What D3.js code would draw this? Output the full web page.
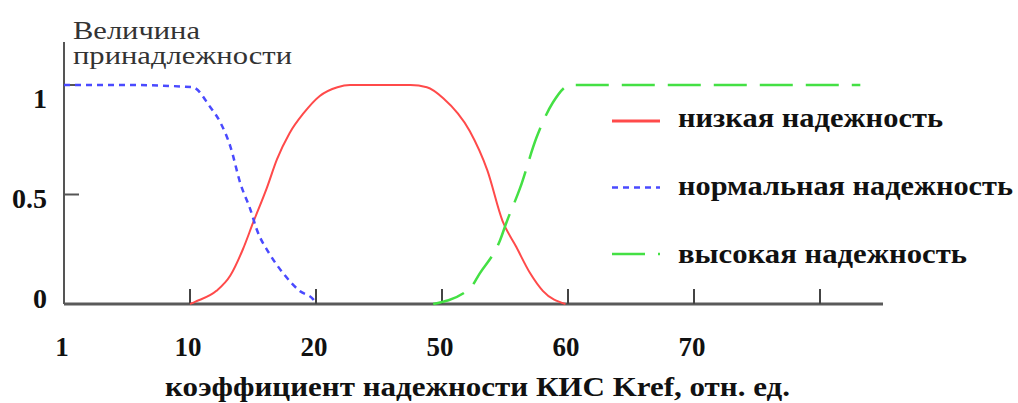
<!DOCTYPE html>
<html><head><meta charset="utf-8">
<script src="https://cdn.jsdelivr.net/npm/d3@7"></script>
<style>body{margin:0;background:#fff}svg{display:block}</style>
</head><body>
<svg id="c" width="1018" height="403"></svg>
<script>
// x positions are in tick-slot units: slot i sits under xTickLabels[i]
const xTickLabels = ["1", "10", "20", "50", "60", "70", ""];
const yTickValues = [1, 0.5];
const yTickLabels = ["1", "0.5", "0"];
const yLabelValues = [1, 0.5, 0];

const lowX = [1.00, 1.04, 1.21, 1.32, 1.42, 1.50, 1.61, 1.69, 1.79, 1.90, 2.03, 2.17, 2.27, 2.50, 2.75, 2.88, 3.01, 3.22, 3.36, 3.48, 3.59, 3.70, 3.80, 3.98];
const lowY = [0.00, 0.01, 0.06, 0.13, 0.25, 0.37, 0.53, 0.66, 0.78, 0.87, 0.95, 0.99, 1.00, 1.00, 1.00, 0.99, 0.94, 0.79, 0.61, 0.38, 0.26, 0.14, 0.06, 0.00];

const normX = [0.00, 0.50, 1.02, 1.16, 1.24, 1.32, 1.40, 1.48, 1.53, 1.63, 1.74, 1.87, 1.98, 2.00];
const normY = [1.00, 1.00, 0.99, 0.90, 0.83, 0.72, 0.55, 0.43, 0.34, 0.23, 0.14, 0.06, 0.02, 0.00];

const highX = [2.93, 3.22, 3.30, 3.46, 3.51, 3.62, 3.75, 3.88, 4.02, 5.00, 6.32];
const highY = [0.00, 0.07, 0.14, 0.29, 0.37, 0.53, 0.76, 0.92, 1.00, 1.00, 1.00];

const seriesNames = ["низкая надежность", "нормальная надежность", "высокая надежность"];
const seriesColors = ["#ff4a4a", "#4a4aff", "#44e044"];
const seriesDash = [null, "6,5", "33,13"];

const yTitle = ["Величина", "принадлежности"];
const xTitle = "коэффициент надежности КИС Kref, отн. ед.";

const svg = d3.select("#c");
const x = d3.scaleLinear().domain([0, 6.5]).range([64, 883]);
const y = d3.scaleLinear().domain([0, 1]).range([304, 85]);
const yLab = d3.scaleLinear().domain([0, 1]).range([298, 98]);

const serif = "'Liberation Serif','Times New Roman',serif";

// axes
svg.append("line").attr("x1", x(0)).attr("x2", x(0)).attr("y1", 42).attr("y2", y(0))
  .attr("stroke", "#555").attr("stroke-width", 2);
svg.append("line").attr("x1", x(0)).attr("x2", x(6.5)).attr("y1", y(0)).attr("y2", y(0))
  .attr("stroke", "#5a5a5a").attr("stroke-width", 3);

// x ticks (inner, upward)
xTickLabels.forEach((t, i) => {
  if (i > 0) svg.append("line").attr("x1", x(i)).attr("x2", x(i)).attr("y1", y(0)).attr("y2", y(0) - 15)
    .attr("stroke", "#444").attr("stroke-width", 2);
  if (t) svg.append("text").attr("x", x(i) - 2).attr("y", 356).attr("text-anchor", "middle")
    .attr("font-family", serif).attr("font-weight", "bold").attr("font-size", 27).attr("fill", "#111").text(t);
});
// y ticks (inner, rightwards)
yTickValues.forEach(v => {
  svg.append("line").attr("x1", x(0)).attr("x2", x(0) + 15).attr("y1", y(v)).attr("y2", y(v))
    .attr("stroke", "#555").attr("stroke-width", 2);
});
yTickLabels.forEach((t, i) => {
  svg.append("text").attr("x", 47).attr("y", yLab(yLabelValues[i])).attr("dy", "0.35em").attr("text-anchor", "end")
    .attr("font-family", serif).attr("font-weight", "bold").attr("font-size", 28).attr("fill", "#111").text(t);
});

// y title
yTitle.forEach((t, i) => {
  svg.append("text").attr("x", 73).attr("y", 39 + i * 25)
    .attr("font-family", serif).attr("font-size", 25).attr("fill", "#333")
    .attr("textLength", i === 0 ? 127 : 219).attr("lengthAdjust", "spacingAndGlyphs").text(t);
});
// x title
svg.append("text").attr("x", 165).attr("y", 396)
  .attr("font-family", serif).attr("font-weight", "bold").attr("font-size", 27).attr("fill", "#111")
  .attr("textLength", 625).attr("lengthAdjust", "spacingAndGlyphs").text(xTitle);

// series
const line = d3.line().x(d => x(d[0])).y(d => y(d[1])).curve(d3.curveMonotoneX);
const series = [d3.zip(lowX, lowY), d3.zip(normX, normY), d3.zip(highX, highY)];
series.forEach((s, i) => {
  svg.append("path").datum(s).attr("d", line).attr("fill", "none")
    .attr("stroke", seriesColors[i]).attr("stroke-width", i === 0 ? 2 : 2.5)
    .attr("stroke-dasharray", seriesDash[i]);
});

// legend
const legLens = [265, 335, 289];
seriesNames.forEach((n, i) => {
  const ry = 121 + i * 66.5;
  svg.append("line").attr("x1", 612).attr("x2", 660).attr("y1", ry).attr("y2", ry)
    .attr("stroke", seriesColors[i]).attr("stroke-width", i === 0 ? 3 : 2.5)
    .attr("stroke-dasharray", seriesDash[i]);
  svg.append("text").attr("x", 678).attr("y", ry + 6 + i * 1.5)
    .attr("font-family", serif).attr("font-weight", "bold").attr("font-size", 28).attr("fill", "#111")
    .attr("textLength", legLens[i]).attr("lengthAdjust", "spacingAndGlyphs").text(n);
});
</script>
</body></html>
